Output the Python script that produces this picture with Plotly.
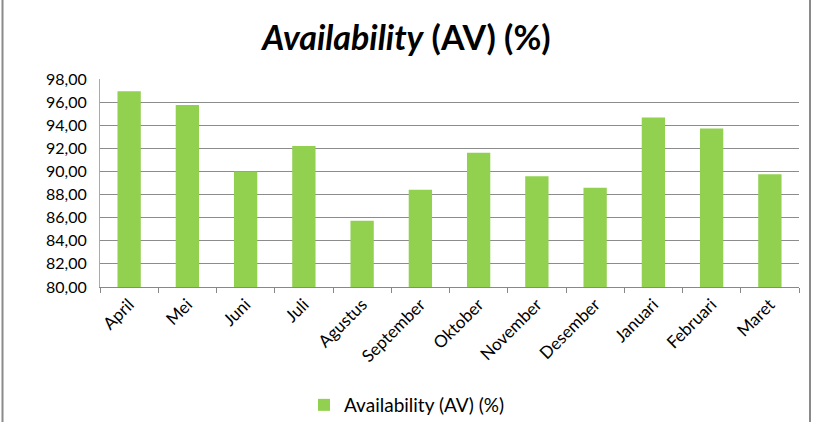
import plotly.graph_objects as go

months = ["April", "Mei", "Juni", "Juli", "Agustus", "September", "Oktober",
          "November", "Desember", "Januari", "Februari", "Maret"]
availability = [96.95, 95.75, 90.0, 92.2, 85.73, 88.41, 91.61, 89.59, 88.58, 94.66, 93.71, 89.76]
y_ticks = [80, 82, 84, 86, 88, 90, 92, 94, 96, 98]

FONT = "Lato"
W, H = 813, 422
L, R, T, B = 100, 14, 79, 135

fig = go.Figure()
fig.add_trace(go.Bar(
    x=months, y=availability, name="Availability (AV) (%)",
    marker=dict(color="#92D050", line=dict(width=0)),
))

pw = W - L - R
ph = H - T - B
px0 = (2.5 - L) / pw
px1 = (810 - L) / pw

fig.update_layout(
    width=W, height=H,
    margin=dict(l=L, r=R, t=T, b=B, pad=0, autoexpand=False),
    paper_bgcolor="white", plot_bgcolor="white",
    separators=",.",
    font=dict(family=FONT, size=16, color="#000000"),
    title=dict(text="<b><i>Availability</i> (AV) (%)</b>", x=0.5, xanchor="center",
               y=1 - 38 / H, yanchor="middle", yref="container", automargin=False,
               font=dict(family=FONT, size=34, color="#000000")),
    bargap=0.6,
    showlegend=True,
    legend=dict(orientation="h", x=(407 - L) / pw, xanchor="center", y=(ph - (405 - T)) / ph,
                yanchor="middle", font=dict(family=FONT, size=19), itemwidth=30),
    xaxis=dict(tickangle=-45, showline=True, linecolor="#888888", linewidth=1,
               ticks="outside", tickson="boundaries", ticklen=5, tickcolor="#888888",
               showgrid=False, tickfont=dict(family=FONT, size=17), automargin=False),
    yaxis=dict(range=[80, 98], tickvals=y_ticks, tickformat=".2f",
               showgrid=True, gridcolor="#8c8c8c", gridwidth=1,
               showline=True, linecolor="#aaaaaa", linewidth=1,
               ticks="outside", ticklen=9, tickcolor="rgba(0,0,0,0)",
               tickfont=dict(family=FONT, size=16), zeroline=False, automargin=False),
    shapes=[
        dict(type="line", xref="paper", yref="paper", x0=px0, x1=px0, y0=-3, y1=3,
             line=dict(color="#8a8a8a", width=2)),
        dict(type="line", xref="paper", yref="paper", x0=px1, x1=px1, y0=-3, y1=3,
             line=dict(color="#8a8a8a", width=2)),
    ],
)

fig.write_html("out.html")
